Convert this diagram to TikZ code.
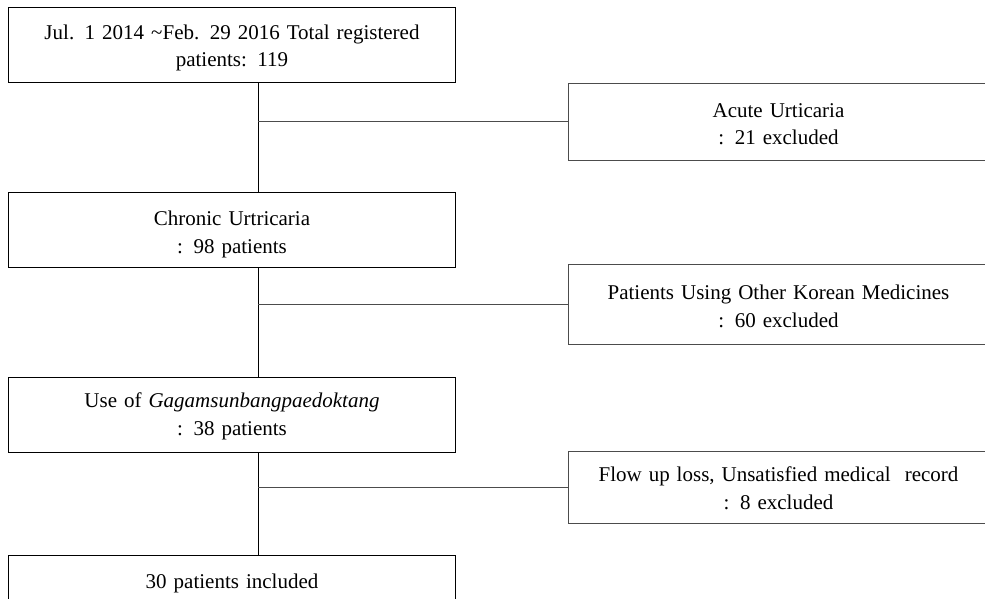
\documentclass[tikz,border=0pt]{standalone}
\usepackage{fontspec}
\setmainfont{Liberation Serif}
\usetikzlibrary{positioning}
\newcommand{\flowfont}{\fontsize{21}{27.5}\selectfont\spaceskip=0.55em plus 0.1em\relax}

\begin{document}
\begin{tikzpicture}[
        x=1pt, y=-1pt,
        box/.style={draw,line width=1pt,inner sep=0pt,align=center,font=\flowfont,text width=447pt,text height=32pt,text depth=43pt,anchor=north west},
        side/.style={draw=black!70,line width=1pt,inner sep=0pt,align=center,font=\flowfont,text width=420pt,text height=34pt,text depth=43pt,anchor=north west},
        link/.style={line width=1pt}
        ]
        \useasboundingbox (0,0) rectangle (985,599);
        \coordinate (trunk) at (258,0);
        \node[box] (total) at (8,7) {Jul. 1 2014 \textasciitilde Feb. 29 2016 Total registered\\patients: 119};
        \node[box,text height=33pt,text depth=42pt] (chronic) at (8,192) {Chronic Urtricaria\\: 98 patients};
        \node[box,text height=30pt,text depth=45pt] (gagam) at (8,377) {Use of \textit{Gagamsunbangpaedoktang}\\: 38 patients};
        \node[box,text height=33pt,text depth=42pt] (incl) at (8,555) {30 patients included};
        \node[side] (acute) at (568,83) {Acute Urticaria\\: 21 excluded};
        \node[side,text height=35pt,text depth=45pt] (other) at (568,264) {Patients Using Other Korean Medicines\\: 60 excluded};
        \node[side,text height=30pt,text depth=42pt] (flow) at (568,451) {Flow up loss, Unsatisfied medical\ \ record\\: 8 excluded};
        \foreach \a/\b in {total/chronic, chronic/gagam, gagam/incl}
          \draw[link] (\a.south -| trunk) -- (\b.north -| trunk);
        \foreach \c in {acute, other, flow}
          \draw[link,black!70] (\c.west -| trunk) -- (\c.west);
      \end{tikzpicture}
\end{document}
